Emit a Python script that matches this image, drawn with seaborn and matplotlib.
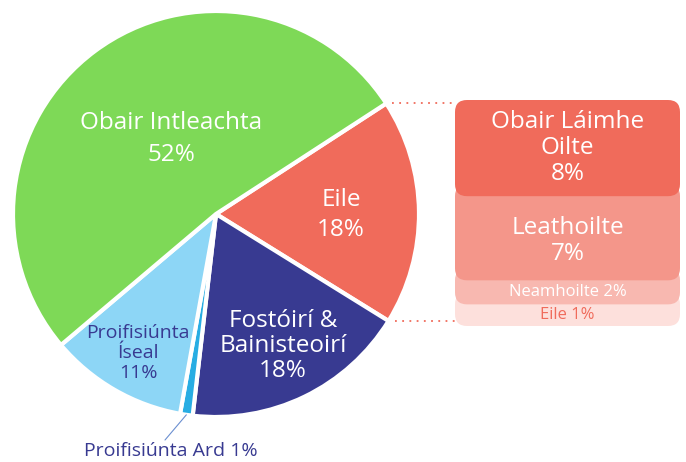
import matplotlib
matplotlib.use('Agg')
import matplotlib.pyplot as plt
import seaborn as sns
import numpy as np
from matplotlib.patches import FancyBboxPatch

sns.set_theme(style='white')
plt.rcParams['font.family'] = ['Open Sans', 'DejaVu Sans']

# dáta an phíchairt
pie_labels = ['Eile', 'Fostóirí &\nBainisteoirí', 'Proifisiúnta Ard', 'Proifisiúnta\nÍseal', 'Obair Intleachta']
pie_values = [18, 18, 1, 11, 52]
pie_colors = ['#F06B5B', '#383A91', '#28ADE3', '#8DD6F6', '#7ED957']

# dáta an bharra "Eile"
bar_labels = ['Obair Láimhe\nOilte', 'Leathoilte', 'Neamhoilte', 'Eile']
bar_values = [8, 7, 2, 1]
bar_colors = ['#F06B5B', '#F4968A', '#F8B8B0', '#FDE0DC']

NAVY = '#383A91'
RED = '#F06B5B'

fig = plt.figure(figsize=(6.86, 4.62), dpi=100)
ax = fig.add_axes([0, 0, 1, 1])

# píchairt
cx, cy, r = 216, 248, 203
wedges, _ = ax.pie(pie_values, colors=pie_colors, startangle=33, counterclock=False,
                   center=(cx, cy), radius=r,
                   wedgeprops=dict(edgecolor='white', linewidth=3))

ax.set_xlim(0, 686)
ax.set_ylim(0, 462)
ax.set_aspect('equal')
ax.axis('off')

# lipéid na slisní
fs = 17.5
ax.text(171, 462 - 139, f'{pie_labels[4]}\n{pie_values[4]}%', color='white', fontsize=fs,
        ha='center', va='center', linespacing=1.45)
ax.text(341, 462 - 215, f'{pie_labels[0]}\n{pie_values[0]}%', color='white', fontsize=fs,
        ha='center', va='center', linespacing=1.3)
ax.text(283, 462 - 346, f'{pie_labels[1]}\n{pie_values[1]}%', color='white', fontsize=fs,
        ha='center', va='center', linespacing=1.08)
ax.text(138, 462 - 353, f'{pie_labels[3]}\n{pie_values[3]}%', color=NAVY, fontsize=14,
        ha='center', va='center', linespacing=1.15)

# slisne bheag le líne threorach
w = wedges[2]
mid = np.deg2rad((w.theta1 + w.theta2) / 2)
ax.annotate('', xy=(cx + r * np.cos(mid), cy + r * np.sin(mid)),
            xytext=(165, 462 - 440),
            arrowprops=dict(arrowstyle='-', color='#6B8FD0', lw=0.8, shrinkA=0, shrinkB=0))
ax.text(171, 462 - 451, f'{pie_labels[2]} {pie_values[2]}%', color=NAVY, fontsize=14,
        ha='center', va='center')

# barra cruachta le cúinní cruinne (airde íosta ionas go luíonn an téacs)
bar_x0, bar_w = 455, 225
bar_top = 462 - 100
shown = [max(v, 1.8) for v in bar_values]
px_per_pct = 226 / sum(shown)
rs = 12
tops = np.cumsum([0] + shown[:-1])
for i in reversed(range(len(shown))):
    y_top = bar_top - tops[i] * px_per_pct
    y_bot = y_top - shown[i] * px_per_pct
    ext = rs if i > 0 else 0
    ax.add_patch(FancyBboxPatch((bar_x0, y_bot), bar_w, (y_top - y_bot) + ext,
                                boxstyle=f'round,pad=0,rounding_size={rs}',
                                fc=bar_colors[i], ec='none', zorder=2))

bx = bar_x0 + bar_w / 2
ax.text(bx, 462 - 148, f'{bar_labels[0]}\n{bar_values[0]}%', color='white', fontsize=fs,
        ha='center', va='center', linespacing=1.1, zorder=3)
ax.text(bx, 462 - 241, f'{bar_labels[1]}\n{bar_values[1]}%', color='white', fontsize=fs,
        ha='center', va='center', linespacing=1.08, zorder=3)
ax.text(bx, 462 - 292, f'{bar_labels[2]} {bar_values[2]}%', color='white', fontsize=12,
        ha='center', va='center', zorder=3)
ax.text(bx, 462 - 315, f'{bar_labels[3]} {bar_values[3]}%', color=RED, fontsize=12,
        ha='center', va='center', zorder=3)

# línte poncaithe idir an píchairt agus an barra
e = wedges[0]
for ang in (e.theta1, e.theta2):
    a = np.deg2rad(ang)
    px, py = cx + r * np.cos(a), cy + r * np.sin(a)
    ax.plot([px + 6, bar_x0], [py, py], color=RED, lw=1.3, ls=(0, (1, 3)))

fig.savefig('out.png', dpi=100)
